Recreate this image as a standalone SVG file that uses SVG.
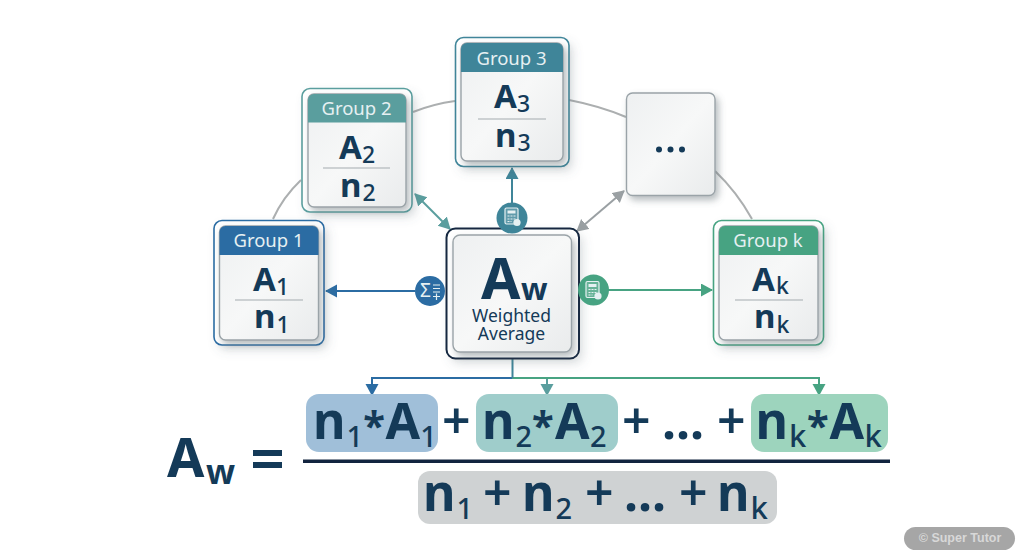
<svg xmlns="http://www.w3.org/2000/svg" width="1024" height="559" viewBox="0 0 1024 559">
<style>
text{font-family:"Noto Sans","DejaVu Sans",sans-serif;fill:#143a58}
.hd{font-size:18.500px;fill:#e6f0f2;text-anchor:middle}
.b{font-size:33px;font-weight:700}
.s{font-size:23px;font-weight:500}
.f{font-size:50px;font-weight:700}
.fs{font-size:29px;font-weight:500}
.fk{font-size:31px;font-weight:500}
.st{font-size:40px}
.p{font-weight:600}
.outer{fill:#fff;stroke-width:1.6;filter:url(#soft)}
.inner{fill:url(#card);stroke:#9aa3a8;stroke-width:1.400;filter:url(#shadow)}
.sep{stroke:#a4abaf;stroke-width:1}
.arc{fill:none;stroke:#acafb0;stroke-width:2}
.c{fill:none;stroke-width:2}
.ic{fill:none;stroke:#e6f0f2;stroke-width:1.2}
</style>
<defs>
<linearGradient id="card" x1="0" y1="0" x2="1" y2="1"><stop offset="0" stop-color="#eef0f1"/><stop offset="0.5" stop-color="#f7f8f8"/><stop offset="1" stop-color="#e9ebec"/></linearGradient>
<filter id="shadow" x="-15%" y="-15%" width="135%" height="135%"><feDropShadow dx="3" dy="4" stdDeviation="3.500" flood-color="#5f6b72" flood-opacity="0.45"/></filter>
<filter id="soft" x="-15%" y="-15%" width="135%" height="135%"><feDropShadow dx="4" dy="5" stdDeviation="5" flood-color="#5f6b72" flood-opacity="0.18"/></filter>
<marker id="mB" markerUnits="userSpaceOnUse" markerWidth="14" markerHeight="14" refX="11" refY="6.500" orient="auto-start-reverse"><path d="M0 0L12 6.500L0 13Z" fill="#2b6ca3"/></marker>
<marker id="mT2" markerUnits="userSpaceOnUse" markerWidth="14" markerHeight="14" refX="11" refY="6.500" orient="auto-start-reverse"><path d="M0 0L12 6.500L0 13Z" fill="#5a9e9e"/></marker>
<marker id="mT3" markerUnits="userSpaceOnUse" markerWidth="14" markerHeight="14" refX="11" refY="6.500" orient="auto-start-reverse"><path d="M0 0L12 6.500L0 13Z" fill="#3f8599"/></marker>
<marker id="mG" markerUnits="userSpaceOnUse" markerWidth="14" markerHeight="14" refX="11" refY="6.500" orient="auto-start-reverse"><path d="M0 0L12 6.500L0 13Z" fill="#47a382"/></marker>
<marker id="mK" markerUnits="userSpaceOnUse" markerWidth="14" markerHeight="14" refX="11" refY="6.500" orient="auto-start-reverse"><path d="M0 0L12 6.500L0 13Z" fill="#9aa0a3"/></marker>
<g id="calc"><rect x="-6.500" y="-8.500" width="13" height="16" rx="1.500" fill="#ffffff" fill-opacity="0.18" stroke="#e6f0f2" stroke-width="1.200"/><rect x="-4" y="-6" width="8" height="3" fill="#e6f0f2"/><path d="M-4-0.500H4M-4 2.500H4M-4 5H0" class="ic" stroke-dasharray="2 1"/><circle cx="5.500" cy="6" r="3.600" fill="#e6f0f2"/></g>
</defs>
<rect width="1024" height="559" fill="#fff"/>

<g id="connectors">
<path class="arc" d="M273 219Q283 197 301 180"/>
<path class="arc" d="M413 112Q433 104 455 101"/>
<path class="arc" d="M569 100Q600 106 626 117"/>
<path class="arc" d="M715 171Q737 192 752 219"/>
<path class="c" stroke="#2b6ca3" d="M415 291H326" marker-end="url(#mB)"/>
<path class="c" stroke="#3f8599" d="M512 203V168" marker-end="url(#mT3)"/>
<path class="c" stroke="#47a382" d="M608 290H712" marker-end="url(#mG)"/>
<path class="c" stroke="#5a9e9e" d="M415 194L450 229" marker-start="url(#mT2)" marker-end="url(#mT2)"/>
<path class="c" stroke="#9aa0a3" d="M624 191L577 231" marker-start="url(#mK)" marker-end="url(#mK)"/>
<path class="c" stroke="#2b6ca3" d="M512 378H372V395" marker-end="url(#mB)"/>
<path class="c" stroke="#5a9e9e" d="M547 378V395" marker-end="url(#mT2)"/>
<path class="c" stroke="#47a382" d="M512 378H819V395" marker-end="url(#mG)"/>
<path class="c" stroke="#3f8599" d="M512.500 358V378"/>
</g>

<g id="group-1">
<rect class="outer" x="214" y="220.500" width="110" height="124.500" rx="8" stroke="#2b6ca3"/>
<rect class="inner" x="219.500" y="226" width="99" height="114" rx="6"/>
<path d="M219.500 255V232a6 6 0 0 1 6-6h87a6 6 0 0 1 6 6V255Z" fill="#2b6ca3"/>
<text class="hd" x="268.500" y="247">Group 1</text>
<text class="b" x="253" y="291">A<tspan class="s" x="276" y="295">1</tspan></text>
<line class="sep" x1="235" y1="300" x2="303" y2="300"/>
<text class="b" x="254" y="328">n<tspan class="s" x="276.500" y="333">1</tspan></text>
</g>

<g id="group-2">
<rect class="outer" x="302" y="88.500" width="110" height="123.500" rx="8" stroke="#5a9e9e"/>
<rect class="inner" x="308" y="94" width="98" height="113" rx="6"/>
<path d="M308 122.500V100a6 6 0 0 1 6-6h86a6 6 0 0 1 6 6V122.500Z" fill="#5a9e9e"/>
<text class="hd" x="356.500" y="115">Group 2</text>
<text class="b" x="339" y="159">A<tspan class="s" x="362" y="163">2</tspan></text>
<line class="sep" x1="323" y1="168" x2="390" y2="168"/>
<text class="b" x="340" y="197">n<tspan class="s" x="362.500" y="201">2</tspan></text>
</g>

<g id="group-3">
<rect class="outer" x="455.500" y="37.500" width="113.500" height="129" rx="8" stroke="#3f8599"/>
<rect class="inner" x="461" y="43" width="102" height="118" rx="6"/>
<path d="M461 72V49a6 6 0 0 1 6-6h90a6 6 0 0 1 6 6V72Z" fill="#3f8599"/>
<text class="hd" x="511.500" y="64.500">Group 3</text>
<text class="b" x="494" y="108">A<tspan class="s" x="517" y="112">3</tspan></text>
<line class="sep" x1="478" y1="119" x2="546" y2="119"/>
<text class="b" x="495" y="147">n<tspan class="s" x="517.500" y="151">3</tspan></text>
</g>

<g id="group-dots">
<rect class="inner" x="626.500" y="93" width="88.500" height="102.500" rx="6"/>
<circle cx="659" cy="149.500" r="3" fill="#143a58"/><circle cx="670.500" cy="149.500" r="3" fill="#143a58"/><circle cx="682" cy="149.500" r="3" fill="#143a58"/>
</g>

<g id="group-k">
<rect class="outer" x="713.500" y="220.500" width="110" height="124.500" rx="8" stroke="#47a382"/>
<rect class="inner" x="719" y="226" width="99" height="114" rx="6"/>
<path d="M719 255V232a6 6 0 0 1 6-6h87a6 6 0 0 1 6 6V255Z" fill="#47a382"/>
<text class="hd" x="768" y="247">Group k</text>
<text class="b" x="752" y="291">A<tspan class="s" x="776" y="294">k</tspan></text>
<line class="sep" x1="735" y1="300" x2="803" y2="300"/>
<text class="b" x="754" y="328">n<tspan class="s" x="776.500" y="333">k</tspan></text>
</g>

<g id="center">
<rect class="outer" x="446.500" y="228.500" width="132.500" height="130" rx="9" stroke="#12283f" style="stroke-width:2"/>
<rect class="inner" x="453" y="235" width="118.500" height="117" rx="7"/>
<text x="481" y="299" style="font-size:57px;font-weight:700">A<tspan x="521" y="300" style="font-size:31px">w</tspan></text>
<text x="511.500" y="322" style="font-size:17.500px;text-anchor:middle">Weighted</text>
<text x="511.500" y="340" style="font-size:17.500px;text-anchor:middle">Average</text>
</g>

<g id="badge-sum">
<circle cx="430" cy="291" r="15" fill="#2b6ca3"/>
<text x="420" y="297" style="font-size:19px;fill:#e6f0f2">Σ</text>
<path class="ic" d="M433 285H440M433 288.500H440M433 292H440M433 296.500H440M436.500 293.500V300"/>
</g>
<g id="badge-calc-3">
<circle cx="512" cy="218" r="15.500" fill="#3f8599"/>
<use href="#calc" x="511.500" y="216.500"/>
</g>
<g id="badge-calc-k">
<circle cx="593.500" cy="290" r="15.500" fill="#47a382"/>
<use href="#calc" x="592.500" y="290"/>
</g>

<g id="formula">
<text x="167" y="477" style="font-size:54px;font-weight:700">A<tspan x="206" y="484" style="font-size:34px">w</tspan></text>
<rect x="253" y="450" width="29" height="6" fill="#143a58"/><rect x="253" y="462" width="29" height="6" fill="#143a58"/>

<rect x="306" y="394" width="132" height="58" rx="13" fill="#a0bfd9"/>
<rect x="476" y="394" width="142" height="58" rx="13" fill="#9fcdcb"/>
<rect x="751" y="394" width="137" height="58" rx="13" fill="#9dd4bd"/>
<rect x="303" y="459.500" width="587" height="3.500" fill="#12243f"/>
<rect x="418" y="471" width="359" height="53" rx="12" fill="#cfd2d3"/>

<text class="f" x="313" y="439">n<tspan class="fs" x="346.500" y="447">1</tspan><tspan class="st" x="363.200" y="440">*</tspan><tspan x="385.500" y="439">A</tspan><tspan class="fs" x="420.200" y="447">1</tspan></text>
<text class="f p" x="442" y="439">+</text>
<text class="f" x="482" y="439">n<tspan class="fs" x="515.500" y="447">2</tspan><tspan class="st" x="532" y="440">*</tspan><tspan x="555" y="439">A</tspan><tspan class="fs" x="590" y="447">2</tspan></text>
<text class="f p" x="622" y="439">+</text>
<text class="f" x="662" y="439">...</text>
<text class="f p" x="717" y="439">+</text>
<text class="f" x="755.500" y="439">n<tspan class="fk" x="789" y="447">k</tspan><tspan class="st" x="807" y="440">*</tspan><tspan x="829.500" y="439">A</tspan><tspan class="fk" x="864.500" y="447">k</tspan></text>

<text class="f" x="423" y="511">n<tspan class="fs" x="456.500" y="519">1</tspan></text>
<text class="f p" x="483" y="511">+</text>
<text class="f" x="522" y="511">n<tspan class="fs" x="555.500" y="519">2</tspan></text>
<text class="f p" x="585" y="511">+</text>
<text class="f" x="624" y="511">...</text>
<text class="f p" x="679" y="511">+</text>
<text class="f" x="717" y="511">n<tspan class="fk" x="750.500" y="519">k</tspan></text>
</g>

<g id="watermark">
<rect x="904" y="527" width="111" height="23" rx="11.500" fill="#a6a6a6"/>
<text x="960" y="542" style="font-family:'Liberation Sans',Arial,sans-serif;font-size:12.500px;font-weight:700;fill:#d8d8d8;text-anchor:middle">© Super Tutor</text>
</g>
</svg>
